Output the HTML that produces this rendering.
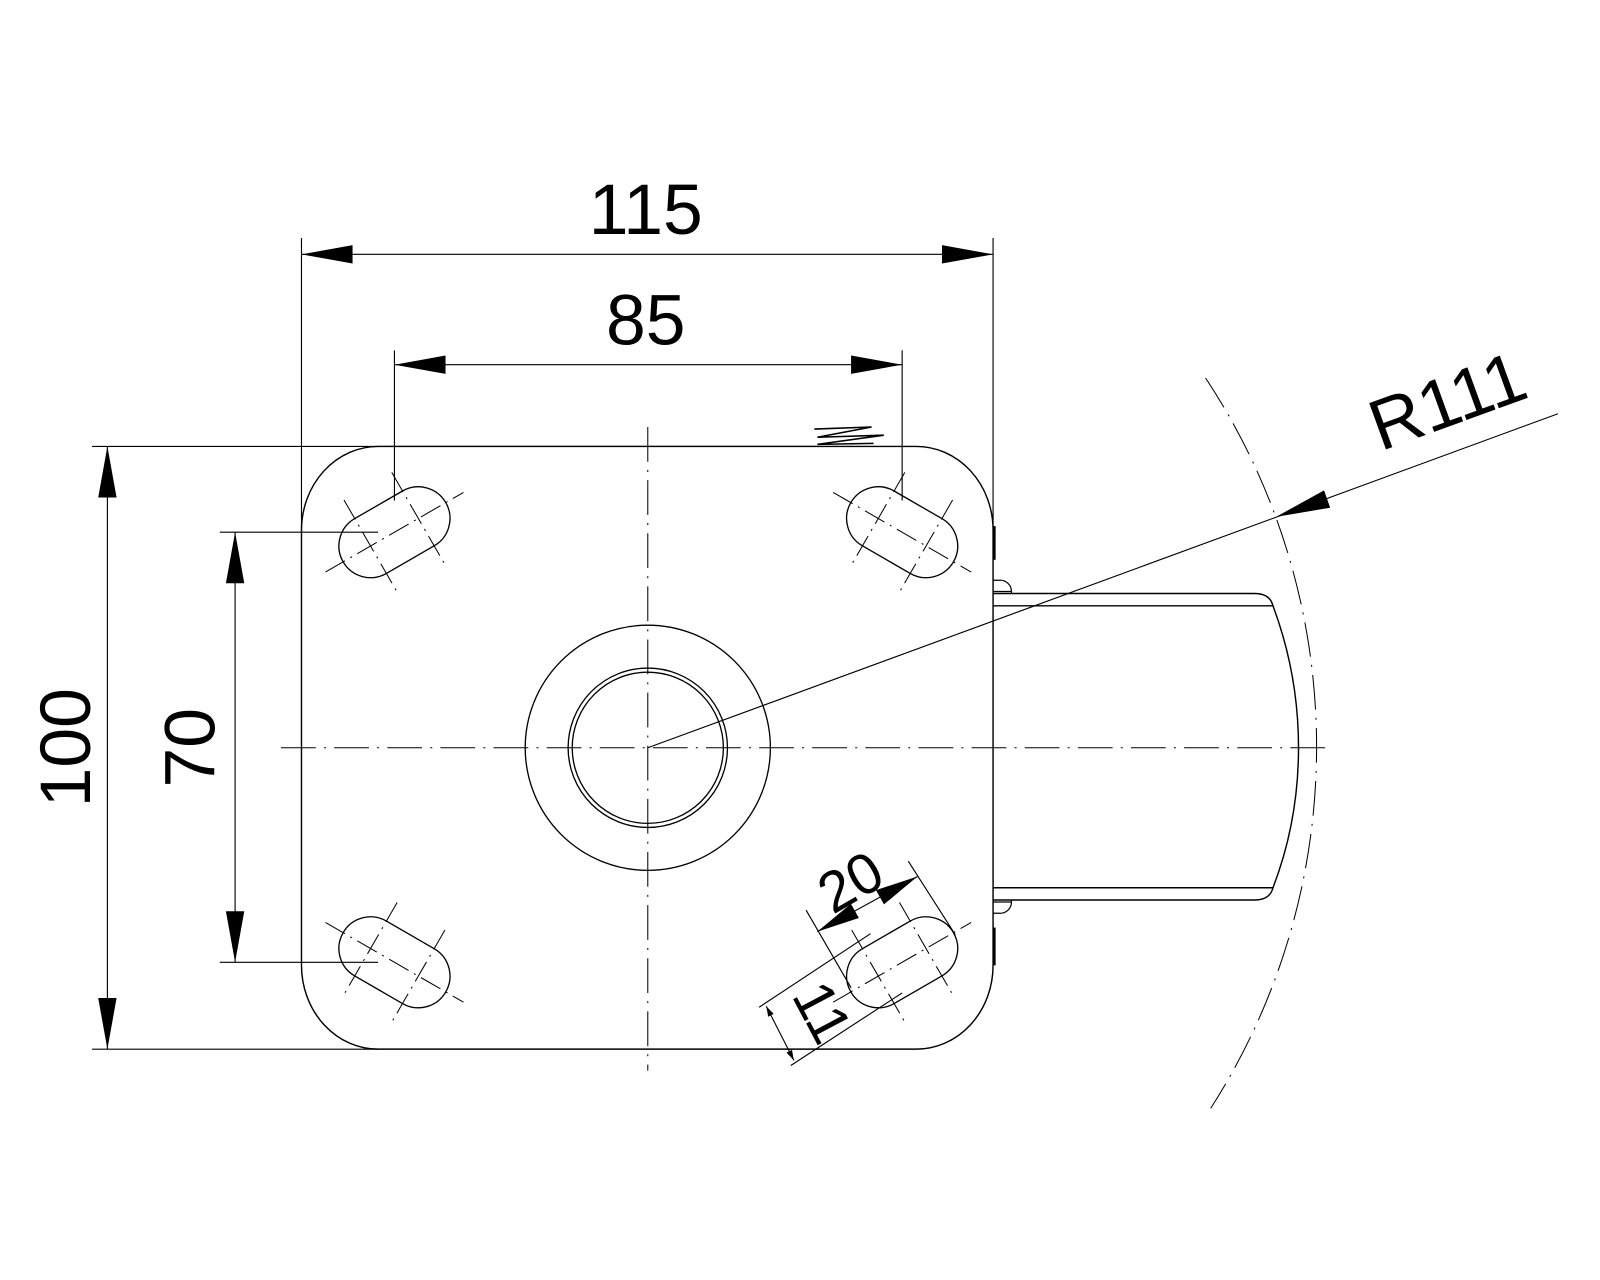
<!DOCTYPE html>
<html><head><meta charset="utf-8"><style>
html,body{margin:0;padding:0;background:#fff;}
svg{display:block;}
text{font-family:"Liberation Sans",sans-serif;fill:#000;}
</style></head><body>
<svg width="1600" height="1280" viewBox="0 0 1566 1253" xmlns="http://www.w3.org/2000/svg">
<defs>
<g id="slot">
  <rect x="-58" y="-31" width="116" height="62" rx="31" ry="31" fill="none" stroke="#000" stroke-width="1.3"/>
  <line x1="-78" y1="0" x2="78" y2="0" stroke="#000" stroke-width="1" stroke-dasharray="22,6,2,6"/>
  <line x1="-27" y1="-52" x2="-27" y2="52" stroke="#000" stroke-width="1" stroke-dasharray="22,6,2,6"/>
  <line x1="27" y1="-52" x2="27" y2="52" stroke="#000" stroke-width="1" stroke-dasharray="22,6,2,6"/>
</g>
</defs>
<g fill="none" stroke="#000" stroke-width="1.4">
  <!-- plate -->
  <path d="M370 437 H897 A75 82 0 0 1 972 519 V945 A75 82 0 0 1 897 1027 H370 A75 82 0 0 1 295 945 V519 A75 82 0 0 1 370 437 Z"/>
  <!-- hub -->
  <circle cx="634" cy="732" r="120" stroke-width="1.3"/>
  <circle cx="634" cy="732" r="78" stroke-width="1.3"/>
  <circle cx="634" cy="732" r="74" stroke-width="1.3"/>
  <!-- bracket -->
  <path d="M972 581 H1228 Q1243 581 1246 593"/>
  <path d="M972 593 H1246 Q1271 660 1271 732 Q1271 804 1246 869 H972"/>
  <path d="M972 881 H1228 Q1243 881 1246 869"/>
  <path d="M972 568 H978 A11 11 0 0 1 990 579 V581 M972 579 H990" stroke-width="1.2"/>
  <path d="M972 894 H978 A11 11 0 0 0 990 883 V881 M972 883 H990" stroke-width="1.2"/>
  <line x1="973" y1="515" x2="973" y2="548" stroke-width="3"/>
  <line x1="973" y1="908" x2="973" y2="945" stroke-width="3"/>
  <!-- zigzag -->
  <path d="M797 420 L853 418 L800 428 L865 426 L800 435 L855 434" stroke-width="1.5"/>
</g>
<!-- centerlines -->
<g stroke="#000" stroke-width="1" stroke-dasharray="34,8,2,8" fill="none">
  <line x1="634" y1="418" x2="634" y2="1048"/>
  <line x1="275" y1="732" x2="1298" y2="732"/>
  <path d="M1180 370 A655 655 0 0 1 1185 1085"/>
</g>
<!-- slots -->
<use href="#slot" transform="translate(386,521) rotate(-30)"/>
<use href="#slot" transform="translate(883,521) rotate(30)"/>
<use href="#slot" transform="translate(386,942) rotate(30)"/>
<use href="#slot" transform="translate(883,942) rotate(-30)"/>
<!-- dimension lines -->
<g stroke="#000" stroke-width="1.1" fill="none">
  <line x1="295" y1="233" x2="295" y2="519"/>
  <line x1="972" y1="233" x2="972" y2="519"/>
  <line x1="295" y1="249" x2="972" y2="249"/>
  <line x1="386" y1="343" x2="386" y2="490"/>
  <line x1="883" y1="343" x2="883" y2="490"/>
  <line x1="386" y1="357" x2="883" y2="357"/>
  <line x1="90" y1="437" x2="370" y2="437"/>
  <line x1="370" y1="437" x2="800" y2="437"/>
  <line x1="90" y1="1027" x2="370" y2="1027"/>
  <line x1="105" y1="437" x2="105" y2="1027"/>
  <line x1="215" y1="521" x2="370" y2="521"/>
  <line x1="215" y1="942" x2="370" y2="942"/>
  <line x1="230" y1="521" x2="230" y2="942"/>
  <!-- R leader -->
  <line x1="634" y1="732" x2="1525" y2="405"/>
  <!-- 20 dim -->
  <line x1="800" y1="912" x2="898" y2="858"/>
  <line x1="789" y1="891" x2="833" y2="967"/>
  <line x1="889" y1="843" x2="935" y2="915"/>
  <!-- 11 dim -->
  <line x1="743" y1="986" x2="852" y2="914"/>
  <line x1="774" y1="1043" x2="883" y2="972"/>
  <line x1="750" y1="985" x2="777" y2="1038"/>
</g>
<g fill="#000" stroke="none">
  <polygon points="295,249 345,240 345,258"/>
  <polygon points="972,249 922,240 922,258"/>
  <polygon points="386,357 436,348 436,366"/>
  <polygon points="883,357 833,348 833,366"/>
  <polygon points="105,437 96,487 114,487"/>
  <polygon points="105,1027 96,977 114,977"/>
  <polygon points="230,521 221,571 239,571"/>
  <polygon points="230,942 221,892 239,892"/>
  <polygon points="1249,506 1296,480 1302,497"/>
  <g transform="translate(800,912) rotate(-29)"><polygon points="0,0 42,-8 42,8"/></g>
  <g transform="translate(898,858) rotate(-29)"><polygon points="0,0 -42,-8 -42,8"/></g>
  <g transform="translate(750,985) rotate(63)"><polygon points="0,0 10,-3 10,3"/></g>
  <g transform="translate(777,1038) rotate(63)"><polygon points="0,0 -10,-3 -10,3"/></g>
</g>
<!-- texts -->
<text x="632" y="229" font-size="70" text-anchor="middle">115</text>
<text x="632" y="337" font-size="70" text-anchor="middle">85</text>
<text transform="translate(88,732) rotate(-90)" font-size="70" text-anchor="middle">100</text>
<text transform="translate(210,732) rotate(-90)" font-size="70" text-anchor="middle">70</text>
<text transform="translate(1425,415) rotate(-20)" font-size="70" text-anchor="middle">R111</text>
<text transform="translate(842,880) rotate(-30)" font-size="56" text-anchor="middle">20</text>
<text transform="translate(788,1000) rotate(62)" font-size="56" text-anchor="middle">11</text>
</svg>
</body></html>
